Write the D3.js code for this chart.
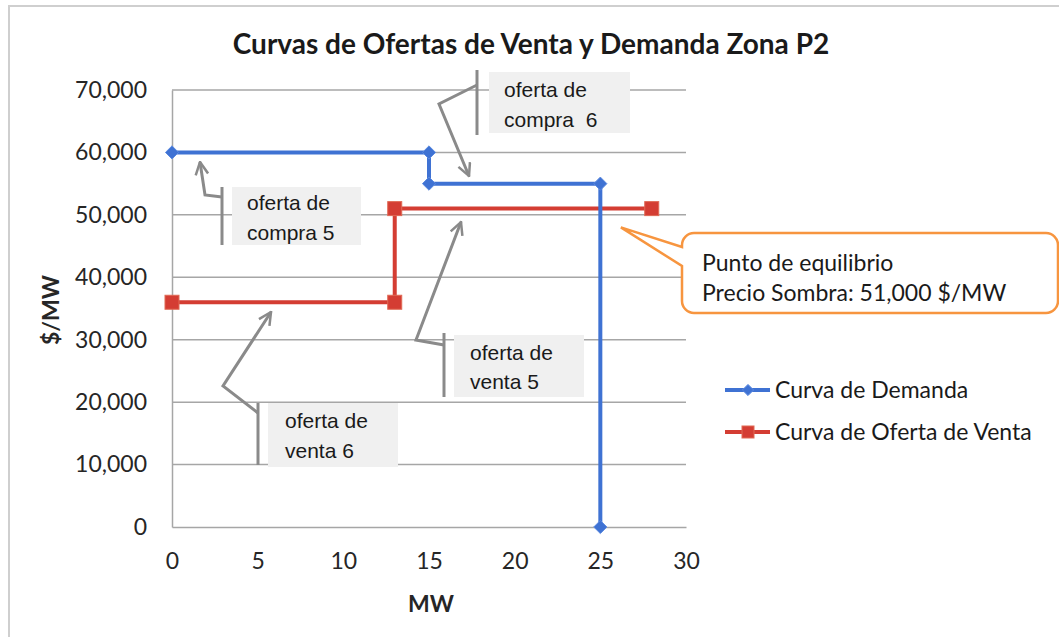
<!DOCTYPE html>
<html>
<head>
<meta charset="utf-8">
<script src="https://cdn.jsdelivr.net/npm/d3@7"></script>
<style>
  body { margin: 0; background: #fff; }
  svg { display: block; }
</style>
</head>
<body>
<svg id="chart" width="1059" height="637"></svg>
<script>
// data
var demandaMW = [0, 15, 15, 25, 25];
var demandaPrecio = [60000, 60000, 55000, 55000, 0];
var ofertaMW = [0, 13, 13, 28];
var ofertaPrecio = [36000, 36000, 51000, 51000];
var xTicks = [0, 5, 10, 15, 20, 25, 30];
var yTicks = [0, 10000, 20000, 30000, 40000, 50000, 60000, 70000];
var seriesNames = ["Curva de Demanda", "Curva de Oferta de Venta"];
var titulo = "Curvas de Ofertas de Venta y Demanda Zona P2";
var notas = [["oferta de", "compra  6"], ["oferta de", "compra 5"], ["oferta de", "venta 5"], ["oferta de", "venta 6"]];
var equilibrio = ["Punto de equilibrio", "Precio Sombra: 51,000 $/MW"];

var azul = "#3f72d3", rojo = "#d43d33", gris = "#8a8a8a", naranja = "#f7953f";

var svg = d3.select("#chart");
var x = d3.scaleLinear().domain([0, 30]).range([172, 686]);
var y = d3.scaleLinear().domain([0, 70000]).range([527, 90]);

// chart frame (only top and left edges are in view)
svg.append("rect")
  .attr("x", 9).attr("y", 6).attr("width", 1100).attr("height", 700)
  .style("fill", "none").style("stroke", "#cfcfcf").style("stroke-width", 2);

// title
svg.append("text")
  .attr("x", 531).attr("y", 54)
  .attr("text-anchor", "middle")
  .style("font-family", "Lato, sans-serif").style("font-weight", "bold")
  .style("font-size", "28px").style("fill", "#1a1a1a")
  .text(titulo);

// gridlines
svg.append("g").selectAll("line")
  .data(yTicks.slice(1))
  .enter().append("line")
  .attr("x1", x(0)).attr("x2", x(30))
  .attr("y1", function(d) { return y(d); }).attr("y2", function(d) { return y(d); })
  .style("stroke", "#a6a6a6").style("stroke-width", 1.5);

// axes
var yAxis = svg.append("g").attr("transform", "translate(" + x(0) + ",0)")
  .call(d3.axisLeft(y).tickValues(yTicks).tickSize(0).tickPadding(25).tickFormat(d3.format(",")));
var xAxis = svg.append("g").attr("transform", "translate(0," + y(0) + ")")
  .call(d3.axisBottom(x).tickValues(xTicks).tickSize(0).tickPadding(26));
[xAxis, yAxis].forEach(function(a) {
  a.select(".domain").style("stroke", "#a6a6a6").style("stroke-width", 1.5);
  a.selectAll("text").style("font-family", "Lato, sans-serif").style("font-size", "23px").style("fill", "#262626");
});

svg.append("text")
  .attr("x", 431).attr("y", 612).attr("text-anchor", "middle")
  .style("font-family", "Lato, sans-serif").style("font-weight", "bold").style("font-size", "23px")
  .style("fill", "#262626")
  .text("MW");
svg.append("text")
  .attr("transform", "translate(59,310) rotate(-90)").attr("text-anchor", "middle")
  .style("font-family", "Lato, sans-serif").style("font-weight", "bold").style("font-size", "23px")
  .style("fill", "#262626")
  .text("$/MW");

// series
var line = d3.line().x(function(d) { return x(d[0]); }).y(function(d) { return y(d[1]); });
var demanda = d3.zip(demandaMW, demandaPrecio);
var oferta = d3.zip(ofertaMW, ofertaPrecio);

svg.append("path").datum(oferta).attr("d", line)
  .style("fill", "none").style("stroke", rojo).style("stroke-width", 4);
svg.append("path").datum(demanda).attr("d", line)
  .style("fill", "none").style("stroke", azul).style("stroke-width", 4);

var diamond = d3.symbol().type(d3.symbolDiamond2).size(110);
svg.append("g").selectAll("path")
  .data(demanda).enter().append("path")
  .attr("transform", function(d) { return "translate(" + x(d[0]) + "," + y(d[1]) + ")"; })
  .attr("d", diamond)
  .style("fill", azul).style("stroke", "#5b8ae0").style("stroke-width", 1);
svg.append("g").selectAll("rect")
  .data(oferta).enter().append("rect")
  .attr("x", function(d) { return x(d[0]) - 7; })
  .attr("y", function(d) { return y(d[1]) - 7; })
  .attr("width", 14).attr("height", 14)
  .style("fill", rojo).style("stroke", "#e06a55").style("stroke-width", 1);

// arrow marker
svg.append("defs").append("marker")
  .attr("id", "flecha").attr("viewBox", "0 0 12 12")
  .attr("refX", 11).attr("refY", 6)
  .attr("markerWidth", 5).attr("markerHeight", 5)
  .attr("markerUnits", "strokeWidth")
  .attr("orient", "auto")
  .append("path").attr("d", "M1,1 L11,6 L1,11")
  .style("fill", "none").style("stroke", gris).style("stroke-width", 2);

// annotation callouts (line callouts with grey boxes)
var callouts = [
  { box: [489, 72, 141, 61], bar: [477, 70, 135], path: [[477, 85], [439, 104], [469, 176]], tx: 504, ty: [97, 127] },
  { box: [232, 187, 129, 58], bar: [222, 187, 245], path: [[222, 197], [205, 195], [200, 162]], tx: 247, ty: [210, 240] },
  { box: [454, 335, 130, 62], bar: [444, 333, 397], path: [[444, 345], [416, 340], [461, 222]], tx: 470, ty: [360, 389] },
  { box: [268, 403, 130, 64], bar: [258, 403, 465], path: [[258, 413], [223, 386], [271, 312]], tx: 285, ty: [428, 458] }
];
callouts.forEach(function(c, i) {
  var g = svg.append("g");
  g.append("rect")
    .attr("x", c.box[0]).attr("y", c.box[1]).attr("width", c.box[2]).attr("height", c.box[3])
    .style("fill", "#f0f0f0");
  g.append("line")
    .attr("x1", c.bar[0]).attr("x2", c.bar[0]).attr("y1", c.bar[1]).attr("y2", c.bar[2])
    .style("stroke", gris).style("stroke-width", 3);
  g.append("path").attr("d", d3.line()(c.path))
    .attr("marker-end", "url(#flecha)")
    .style("fill", "none").style("stroke", gris).style("stroke-width", 3);
  notas[i].forEach(function(t, k) {
    g.append("text")
      .attr("x", c.tx).attr("y", c.ty[k])
      .style("font-family", "'Liberation Sans', Arial, sans-serif").style("font-size", "21px")
      .style("fill", "#1a1a1a").style("white-space", "pre")
      .text(t);
  });
});

// equilibrium callout
var bx = 682, by = 233, bw = 376, bh = 80, r = 12;
var p = d3.path();
p.moveTo(bx + r, by);
p.lineTo(bx + bw - r, by);
p.arcTo(bx + bw, by, bx + bw, by + r, r);
p.lineTo(bx + bw, by + bh - r);
p.arcTo(bx + bw, by + bh, bx + bw - r, by + bh, r);
p.lineTo(bx + r, by + bh);
p.arcTo(bx, by + bh, bx, by + bh - r, r);
p.lineTo(bx, by + 33);
p.lineTo(x(26.2), y(48000));
p.lineTo(bx, by + 14);
p.arcTo(bx, by, bx + r, by, r);
p.closePath();
svg.append("path").attr("d", p.toString())
  .style("fill", "#fff").style("stroke", naranja).style("stroke-width", 2.5);
equilibrio.forEach(function(t, k) {
  svg.append("text")
    .attr("x", 702).attr("y", 271 + k * 30)
    .style("font-family", "Lato, sans-serif").style("font-size", "23px").style("fill", "#1a1a1a")
    .text(t);
});

// legend
var leg = svg.append("g");
seriesNames.forEach(function(name, i) {
  var ly = 390 + i * 42;
  var col = i === 0 ? azul : rojo;
  leg.append("line").attr("x1", 725).attr("x2", 770).attr("y1", ly).attr("y2", ly)
    .style("stroke", col).style("stroke-width", 4);
  if (i === 0) {
    leg.append("path").attr("transform", "translate(748," + ly + ")")
      .attr("d", d3.symbol().type(d3.symbolDiamond2).size(80))
      .style("fill", azul).style("stroke", "#5b8ae0");
  } else {
    leg.append("rect").attr("x", 742).attr("y", ly - 6).attr("width", 12).attr("height", 12)
      .style("fill", rojo).style("stroke", "#e06a55");
  }
  leg.append("text").attr("x", 775).attr("y", ly + 8)
    .style("font-family", "Lato, sans-serif").style("font-size", "23px").style("fill", "#1a1a1a")
    .text(name);
});
</script>
</body>
</html>
